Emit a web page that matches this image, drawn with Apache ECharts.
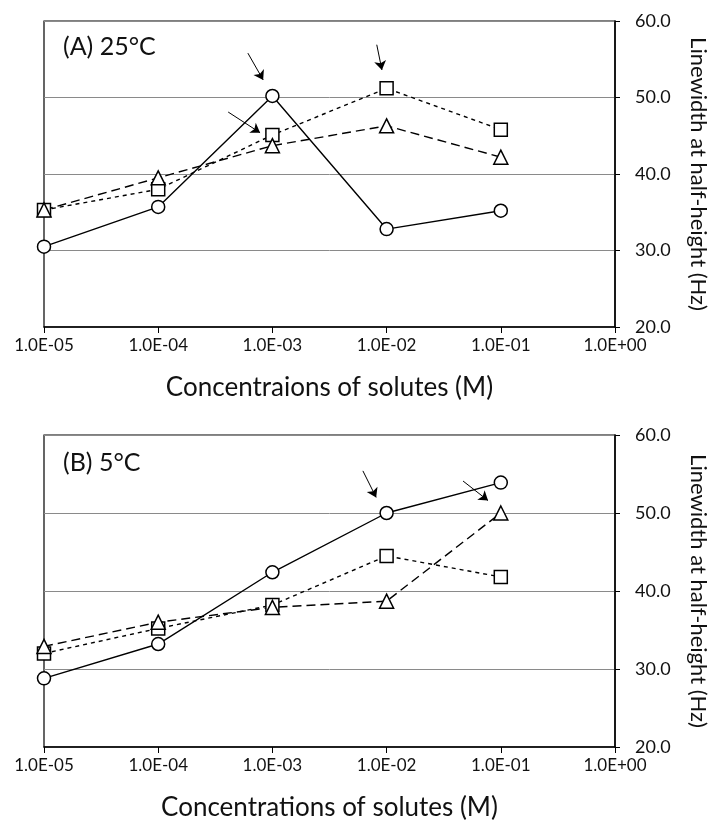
<!DOCTYPE html>
<html>
<head>
<meta charset="utf-8">
<script src="https://cdn.jsdelivr.net/npm/echarts@6/dist/echarts.min.js"></script>
<style>
  html, body { margin: 0; padding: 0; background: #fff; }
  #chart-container { width: 708px; height: 828px; }
</style>
</head>
<body>
<div id="chart-container"></div>
<script>
var concentrations = [1e-5, 1e-4, 1e-3, 1e-2, 1e-1];

// panel A, 25 C
var circleA = [30.5, 35.7, 50.2, 32.8, 35.2];
var squareA = [35.3, 38.0, 45.1, 51.2, 45.8];
var triangleA = [35.3, 39.5, 43.7, 46.3, 42.2];

// panel B, 5 C
var circleB = [28.8, 33.2, 42.4, 50.0, 53.9];
var squareB = [32.0, 35.2, 38.2, 44.5, 41.8];
var triangleB = [32.9, 36.0, 37.9, 38.7, 50.0];

// arrows [[xStart, yStart], [xEnd, yEnd]]
var arrowsA = [
  [[6.1e-4, 55.8], [8.3e-4, 52.3]],
  [[4.1e-4, 48.1], [7.8e-4, 45.4]],
  [[8.2e-3, 56.9], [9.1e-3, 53.6]]
];
var arrowsB = [
  [[6.2e-3, 55.4], [8.1e-3, 52.0]],
  [[0.0467, 54.1], [0.0773, 51.6]]
];

var xNames = ['Concentraions of solutes (M)', 'Concentrations of solutes (M)'];
var panelLabels = ['(A) 25°C', '(B) 5°C'];
var yName = 'Linewidth at half-height (Hz)';

var font = 'Lato, "Open Sans", sans-serif';

function pairs(ys) {
  return concentrations.map(function (x, i) { return [x, ys[i]]; });
}

function fmtExp(v) {
  var e = Math.round(Math.log10(v));
  var s = e < 0 ? '-' : '+';
  var a = Math.abs(e);
  return '1.0E' + s + (a < 10 ? '0' : '') + a;
}

function xAxis(idx) {
  return {
    type: 'log', logBase: 10, gridIndex: idx, min: 1e-5, max: 1,
    name: xNames[idx], nameLocation: 'middle', nameGap: 48,
    nameTextStyle: { fontFamily: font, fontSize: 26, color: '#111' },
    axisLine: { lineStyle: { color: '#000', width: 1.5 } },
    axisTick: { show: true, inside: false, length: 6, lineStyle: { color: '#000' } },
    minorTick: { show: false },
    splitLine: { show: false },
    axisLabel: { formatter: fmtExp, fontFamily: font, fontSize: 17, color: '#111', margin: 10 }
  };
}

function yAxis(idx) {
  return {
    type: 'value', gridIndex: idx, position: 'right', min: 20, max: 60, interval: 10,
    name: yName, nameLocation: 'middle', nameGap: 72, nameRotate: -90,
    nameTextStyle: { fontFamily: font, fontSize: 22, color: '#111' },
    axisLine: { show: true, lineStyle: { color: '#000', width: 1.5 } },
    axisTick: { show: true, inside: false, length: 5, lineStyle: { color: '#000' } },
    splitLine: { show: true, lineStyle: { color: '#8a8a8a', width: 1 } },
    axisLabel: { formatter: function (v) { return v.toFixed(1); }, fontFamily: font, fontSize: 18, color: '#111', margin: 20 }
  };
}

function lineSeries(idx, ys, symbol, type, arrows) {
  var s = {
    type: 'line', xAxisIndex: idx, yAxisIndex: idx,
    data: pairs(ys),
    symbol: symbol, symbolSize: symbol === 'triangle' ? 14 : 13,
    showAllSymbol: true,
    lineStyle: { color: '#000', width: 1.4, type: type },
    itemStyle: { color: '#fff', borderColor: '#000', borderWidth: 1.5 },
    emphasis: { disabled: true },
    z: 3
  };
  if (arrows) {
    s.markLine = {
      silent: true,
      symbol: ['none', 'arrow'], symbolSize: 9,
      label: { show: false },
      lineStyle: { color: '#000', width: 1, type: 'solid' },
      data: arrows.map(function (a) { return [{ coord: a[0] }, { coord: a[1] }]; })
    };
  }
  return s;
}

var myChart = echarts.init(document.getElementById('chart-container'));

var option = {
  animation: false,
  backgroundColor: '#fff',
  title: [
    { text: panelLabels[0], left: 58, top: 29, textStyle: { fontFamily: font, fontSize: 25, fontWeight: 'normal', color: '#111' } },
    { text: panelLabels[1], left: 58, top: 445, textStyle: { fontFamily: font, fontSize: 25, fontWeight: 'normal', color: '#111' } }
  ],
  grid: [
    { left: 44, top: 21, width: 571, height: 306, show: true, borderColor: '#000', borderWidth: 1.2, outerBoundsMode: 'none', containLabel: false },
    { left: 44, top: 435, width: 571, height: 312, show: true, borderColor: '#000', borderWidth: 1.2, outerBoundsMode: 'none', containLabel: false }
  ],
  xAxis: [xAxis(0), xAxis(1)],
  yAxis: [yAxis(0), yAxis(1)],
  series: [
    lineSeries(0, circleA, 'circle', 'solid', arrowsA),
    lineSeries(0, squareA, 'rect', [4, 4]),
    lineSeries(0, triangleA, 'triangle', [9, 5]),
    lineSeries(1, circleB, 'circle', 'solid', arrowsB),
    lineSeries(1, squareB, 'rect', [4, 4]),
    lineSeries(1, triangleB, 'triangle', [9, 5])
  ]
};

myChart.setOption(option);
window.addEventListener('resize', myChart.resize);
</script>
</body>
</html>
